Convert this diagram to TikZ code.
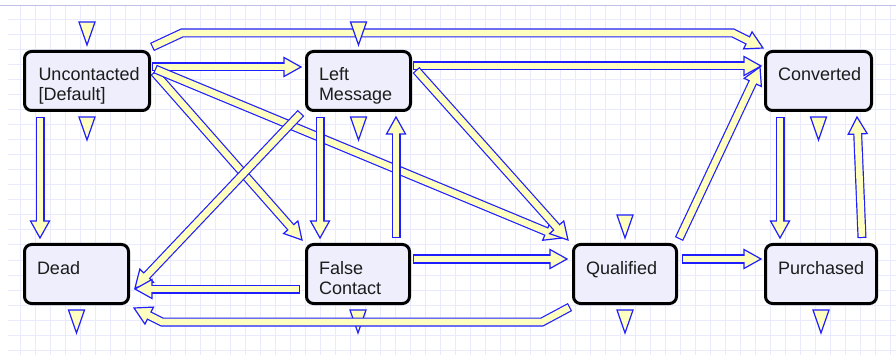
\documentclass[tikz,border=0pt]{standalone}
\usepackage{fontspec}
\setmainfont{Liberation Sans}
\usetikzlibrary{calc}

\definecolor{gridline}{RGB}{234,234,255}
\definecolor{frameline}{RGB}{192,192,230}
\definecolor{boxfill}{RGB}{238,238,252}
\definecolor{pipeline}{RGB}{30,30,255}
\definecolor{pipefill}{RGB}{255,255,192}
\definecolor{labeltext}{RGB}{28,28,28}

\tikzset{
  state/.style={draw=black, line width=3pt, rounded corners=7pt, fill=boxfill,
    inner sep=0pt, minimum height=59pt, text=labeltext},
  pipeout/.style={draw=pipeline, line width=9pt, line cap=butt, line join=miter},
  pipein/.style={draw=pipefill, line width=6.6pt, line cap=butt, line join=miter},
  pipehead/.style={fill=pipefill, draw=pipeline, line width=1.2pt, line join=miter},
  marker/.style={fill=pipefill, draw=pipeline, line width=1.2pt, line join=miter},
}

% text block of a state: first baseline 29.5pt below the inner top edge
\newcommand\statetext[2]{\parbox[c][59pt][t]{#1}{\raggedright
  \fontsize{18pt}{20pt}\selectfont\rule{0pt}{29.5pt}#2}}

% flow pipe: #1 path up to the last bend, #2 last bend, #3 tip
\newcommand\flowpipe[3]{%
  \coordinate (fp-base) at ($(#3)!17pt!(#2)$);
  \coordinate (fp-in) at ($(#3)!15pt!(#2)$);
  \draw[pipeout] #1 -- (fp-base);
  \path[pipehead] (#3) -- ($(fp-base)!9.5pt!90:(#3)$) -- ($(fp-base)!9.5pt!-90:(#3)$) -- cycle;
  \draw[pipein, shorten <=1.2pt] #1 -- (fp-in);
}
\newcommand\straightpipe[2]{\flowpipe{(#1)}{#1}{#2}}

% small flow triangle hanging from its top centre
\newcommand\flowmark[1]{\path[marker] (#1) ++(-8,0) -- ++(16,0) -- ++(-8,23) -- cycle;}

\begin{document}
\begin{tikzpicture}[x=1pt,y=-1pt]
\useasboundingbox (0,0) rectangle (896,355);
\fill[white] (0,0) rectangle (896,355);

% background grid
\foreach \gx in {20,35,...,890} \draw[gridline, line width=1pt] (\gx,6) -- (\gx,355);
\foreach \gy in {20,35,...,350} \draw[gridline, line width=1pt] (8,\gy) -- (896,\gy);
\draw[frameline, line width=1pt] (0,5.5) -- (896,5.5);

% states
\node[state, minimum width=125pt] (unc)  at (87,81)    {\statetext{97pt}{Uncontacted\\{}[Default]}};
\node[state, minimum width=104pt] (lm)   at (358.5,81) {\statetext{79pt}{Left\\Message}};
\node[state, minimum width=106pt] (conv) at (818.5,81) {\statetext{81pt}{Converted}};
\node[state, minimum width=104pt] (dead) at (76.5,274) {\statetext{79pt}{Dead}};
\node[state, minimum width=103pt] (fc)   at (358,274)  {\statetext{78pt}{False\\Contact}};
\node[state, minimum width=103pt] (qual) at (625,274)  {\statetext{78pt}{Qualified}};
\node[state, minimum width=111pt] (pur)  at (821,274)  {\statetext{86pt}{Purchased}};

% pipe end points
\coordinate (a1s) at ($(unc.north east)+(1,-3)$);
\coordinate (a1b) at ($(unc.north east)+(31,-17)$);
\coordinate (a1c) at ($(conv.north west)+(-31,-17)$);
\coordinate (a1t) at ($(conv.north west)+(-1,-2)$);
\coordinate (a2s) at ($(unc.east)+(1,-14)$);
\coordinate (a2t) at ($(lm.west)+(-4,-14)$);
\coordinate (a3s) at ($(unc.south west)+(17,5)$);
\coordinate (a3t) at ($(dead.north west)+(17,-5)$);
\coordinate (a4s) at ($(unc.east)+(3,-9)$);
\coordinate (a4t) at ($(fc.north west)+(-3,-3)$);
\coordinate (a5s) at ($(unc.east)+(4,-12)$);
\coordinate (a5t) at ($(qual.north west)+(-10,-5)$);
\coordinate (a6s) at ($(lm.south west)+(-4,1)$);
\coordinate (a6t) at ($(dead.east)+(5,14)$);
\coordinate (a7s) at ($(lm.south west)+(15,5)$);
\coordinate (a7t) at ($(fc.north west)+(15,-5)$);
\coordinate (a8s) at ($(fc.north east)+(-15,-5)$);
\coordinate (a8t) at ($(lm.south east)+(-16,5)$);
\coordinate (a9s) at ($(lm.east)+(1,-15)$);
\coordinate (a9t) at ($(conv.west)+(-3,-15)$);
\coordinate (a10s) at ($(lm.east)+(4,-11)$);
\coordinate (a10t) at ($(qual.north west)+(-4,-3)$);
\coordinate (a11s) at ($(qual.north east)+(1,-4)$);
\coordinate (a11t) at ($(conv.west)+(-4,-14)$);
\coordinate (a12s) at ($(conv.south west)+(16,5)$);
\coordinate (a12t) at ($(pur.north west)+(16,-5)$);
\coordinate (a13s) at ($(pur.north east)+(-16,-5)$);
\coordinate (a13t) at ($(conv.south east)+(-16,5)$);
\coordinate (a14s) at ($(fc.east)+(2,-15)$);
\coordinate (a14t) at ($(qual.west)+(-5,-15)$);
\coordinate (a15s) at ($(qual.east)+(4,-15)$);
\coordinate (a15t) at ($(pur.west)+(-3,-15)$);
\coordinate (a16s) at ($(fc.west)+(-5,15)$);
\coordinate (a16t) at ($(dead.east)+(5,15)$);
\coordinate (a17s) at ($(qual.south west)+(-2,2)$);
\coordinate (a17b) at ($(qual.south west)+(-30,17)$);
\coordinate (a17c) at ($(dead.south east)+(32,17)$);
\coordinate (a17t) at ($(dead.south east)+(4,3)$);

% flow markers above and below the states
\flowmark{$(unc.north)+(0,-28)$}
\flowmark{$(unc.south)+(0,5)$}
\flowmark{$(lm.south)+(0,5)$}
\flowmark{$(conv.south)+(0,5)$}
\flowmark{$(qual.north)+(0,-28)$}
\flowmark{$(qual.south)+(0,5)$}
\flowmark{$(pur.south)+(0,5)$}
\flowmark{$(dead.south)+(0,5)$}
\flowmark{$(fc.south)+(0,5)$}

% transitions
\flowpipe{(a1s) -- (a1b) -- (a1c)}{a1c}{a1t}
\flowmark{$(lm.north)+(0,-28)$}
\straightpipe{a2s}{a2t}
\straightpipe{a3s}{a3t}
\straightpipe{a4s}{a4t}
\straightpipe{a5s}{a5t}
\straightpipe{a6s}{a6t}
\straightpipe{a7s}{a7t}
\straightpipe{a8s}{a8t}
\straightpipe{a9s}{a9t}
\straightpipe{a10s}{a10t}
\straightpipe{a11s}{a11t}
\straightpipe{a12s}{a12t}
\straightpipe{a13s}{a13t}
\straightpipe{a14s}{a14t}
\straightpipe{a15s}{a15t}
\straightpipe{a16s}{a16t}
\flowpipe{(a17s) -- (a17b) -- (a17c)}{a17c}{a17t}
\end{tikzpicture}
\end{document}
